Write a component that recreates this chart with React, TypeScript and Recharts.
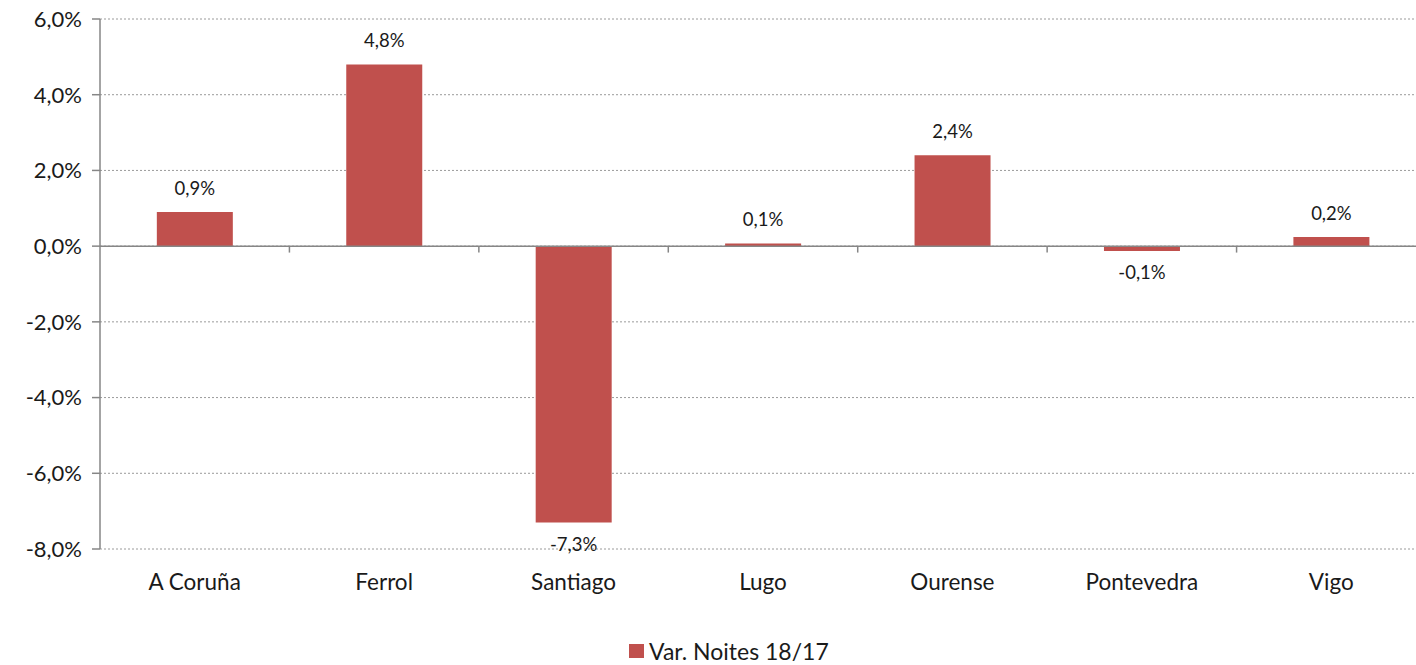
import React from "react";
import {
  BarChart,
  Bar,
  XAxis,
  YAxis,
  CartesianGrid,
  ReferenceLine,
  LabelList,
  Legend,
} from "recharts";

const categories = ["A Coruña", "Ferrol", "Santiago", "Lugo", "Ourense", "Pontevedra", "Vigo"];
const varNoites = [0.9, 4.8, -7.3, 0.07, 2.4, -0.13, 0.24];
const yTicks = [-8, -6, -4, -2, 0, 2, 4, 6];
const seriesName = "Var. Noites 18/17";

const BAR_COLOR = "#C0504D";
const AXIS_COLOR = "#868686";
const FONT = "Lato, 'Open Sans', sans-serif";

const fmt = (v: number) => v.toFixed(1).replace(".", ",") + "%";

const data = categories.map((name, i) => ({ name, value: varNoites[i] }));

const BarLabel = (props: any) => {
  const { x, y, width, height, value } = props;
  const top = Math.min(y, y + height);
  const bottom = Math.max(y, y + height);
  const cx = x + width / 2;
  const ty = value >= 0 ? top - 24 : bottom + 21;
  return (
    <text
      x={cx}
      y={ty}
      textAnchor="middle"
      dominantBaseline="central"
      fontSize={18.5}
      fontFamily={FONT}
      fill="#1a1a1a"
    >
      {fmt(value)}
    </text>
  );
};

const LegendContent = () => (
  <div style={{ display: "flex", alignItems: "center", fontFamily: FONT, fontSize: 23, color: "#1a1a1a" }}>
    <span style={{ width: 15, height: 14, background: BAR_COLOR, display: "inline-block", marginRight: 5 }} />
    <span>{seriesName}</span>
  </div>
);

export default function App() {
  return (
    <div style={{ position: "absolute", left: 0, top: 0, width: 1416, height: 665, overflow: "hidden", background: "#fff" }}>
      <BarChart
        width={1426}
        height={665}
        data={data}
        margin={{ top: 19, right: 0, left: 0, bottom: 52 }}
        barCategoryGap="30%"
      >
        <CartesianGrid vertical={false} stroke="#9a9a9a" strokeDasharray="2 2" />
        <XAxis
          dataKey="name"
          axisLine={false}
          tickLine={false}
          tickSize={0}
          tickMargin={25}
          height={36}
          interval={0}
          tick={{ fontSize: 22.5, fontFamily: FONT, fill: "#1a1a1a" }}
        />
        <YAxis
          width={100}
          domain={[-8, 6]}
          ticks={yTicks}
          allowDataOverflow
          tickFormatter={fmt}
          axisLine={{ stroke: AXIS_COLOR, strokeWidth: 1.5 }}
          tickLine={{ stroke: AXIS_COLOR, strokeWidth: 1.5 }}
          tickSize={8}
          tickMargin={10}
          tick={{ fontSize: 22, fontFamily: FONT, fill: "#1a1a1a" }}
        />
        <Bar dataKey="value" name={seriesName} fill={BAR_COLOR} isAnimationActive={false}>
          <LabelList dataKey="value" content={BarLabel} />
        </Bar>
        <ReferenceLine y={0} stroke={AXIS_COLOR} strokeWidth={1.5} />
        {categories.slice(1).map((c) => (
          <ReferenceLine
            key={c}
            segment={[{ x: c, y: 0 }, { x: c, y: -0.17 }]}
            position="start"
            stroke={AXIS_COLOR}
            strokeWidth={1.5}
            ifOverflow="visible"
          />
        ))}
        <Legend
          verticalAlign="bottom"
          content={LegendContent}
          wrapperStyle={{ bottom: 0, left: 629, width: "auto" }}
        />
      </BarChart>
    </div>
  );
}
